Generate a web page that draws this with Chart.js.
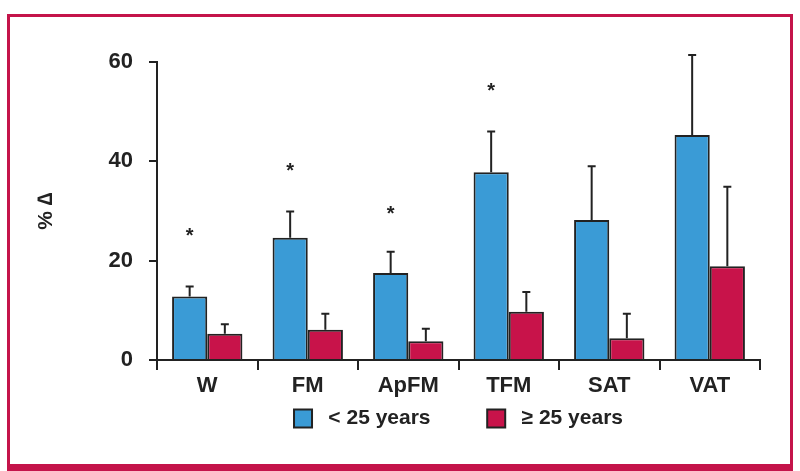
<!DOCTYPE html>
<html>
<head>
<meta charset="utf-8">
<script src="https://cdn.jsdelivr.net/npm/chart.js@4/dist/chart.umd.min.js"></script>
<style>
  html, body { margin: 0; padding: 0; background: #fff; }
  #wrap { position: relative; width: 800px; height: 471px; }
  #frame {
    position: absolute; left: 7px; top: 14px; width: 786px; height: 457px;
    box-sizing: border-box; border: 3px solid #c4144a; border-bottom-width: 7px;
    pointer-events: none;
  }
  canvas { position: absolute; left: 0; top: 0; }
</style>
</head>
<body>
<div id="wrap">
  <canvas id="chart" width="800" height="471"></canvas>
  <div id="frame"></div>
</div>
<script>
// categories and values
const categories = ['W', 'FM', 'ApFM', 'TFM', 'SAT', 'VAT'];
const seriesNames = ['< 25 years', '≥ 25 years'];
const young = [12.8, 24.6, 17.5, 37.8, 28.2, 45.3];
const older = [5.3, 6.1, 3.8, 9.7, 4.4, 18.9];
// top of the error bars (mean + SD)
const youngUpper = [14.8, 29.9, 21.8, 46.0, 39.0, 61.4];
const olderUpper = [7.2, 9.3, 6.3, 13.7, 9.3, 34.9];
// where the significance asterisks sit (null = none)
const starAt = [25, 38.2, 29.6, 54.2, null, null];
const yTicks = [0, 20, 40, 60];

const upperByDataset = [youngUpper, olderUpper];
const font = 'Liberation Sans, Arial, Helvetica, sans-serif';
Chart.defaults.color = '#222';
Chart.defaults.font.family = font;

const errorBars = {
  id: 'errorBars',
  afterDatasetsDraw(chart) {
    const { ctx } = chart;
    const y = chart.scales.y;
    ctx.save();
    ctx.strokeStyle = '#222';
    ctx.lineWidth = 2;
    chart.data.datasets.forEach((ds, i) => {
      chart.getDatasetMeta(i).data.forEach((bar, j) => {
        const top = y.getPixelForValue(upperByDataset[i][j]);
        ctx.beginPath();
        ctx.moveTo(bar.x, bar.y);
        ctx.lineTo(bar.x, top);
        ctx.moveTo(bar.x - 4, top);
        ctx.lineTo(bar.x + 4, top);
        ctx.stroke();
      });
    });
    // asterisks over the younger group
    ctx.fillStyle = '#222';
    ctx.font = 'bold 20px ' + font;
    ctx.textAlign = 'center';
    ctx.textBaseline = 'middle';
    chart.getDatasetMeta(0).data.forEach((bar, j) => {
      if (starAt[j] === null) return;
      ctx.fillText('*', bar.x, y.getPixelForValue(starAt[j]) + 1);
    });
    ctx.restore();
  }
};

new Chart(document.getElementById('chart').getContext('2d'), {
  type: 'bar',
  data: {
    labels: categories,
    datasets: [
      { label: seriesNames[0], data: young, backgroundColor: '#3a9bd6', borderColor: '#222', borderWidth: 2 },
      { label: seriesNames[1], data: older, backgroundColor: '#c8134a', borderColor: '#222', borderWidth: 2 }
    ]
  },
  options: {
    responsive: false,
    animation: false,
    layout: { padding: { left: 20, right: 40, top: 62, bottom: 32 } },
    datasets: { bar: { categoryPercentage: 0.7, barPercentage: 1.0 } },
    plugins: {
      tooltip: { enabled: false },
      legend: {
        position: 'bottom',
        fullSize: false,
        labels: {
          boxWidth: 18,
          boxHeight: 18,
          padding: 10,
          font: { size: 21, weight: 'bold' },
          generateLabels(chart) {
            const items = Chart.defaults.plugins.legend.labels.generateLabels(chart);
            items.forEach((it, i) => {
              it.text = ' ' + it.text + (i === 0 ? '        ' : '');
            });
            return items;
          }
        }
      }
    },
    scales: {
      x: {
        grid: { drawOnChartArea: false, offset: true, tickLength: 10, color: '#222', lineWidth: 2 },
        border: { color: '#222', width: 2 },
        ticks: { font: { size: 22, weight: 'bold' }, padding: 3 },
        afterFit(scale) { scale.height = 38; }
      },
      y: {
        min: 0,
        max: 60,
        afterBuildTicks(scale) { scale.ticks = yTicks.map(v => ({ value: v })); },
        grid: { drawOnChartArea: false, tickLength: 8, color: '#222', lineWidth: 2 },
        border: { color: '#222', width: 2 },
        ticks: { font: { size: 22, weight: 'bold' }, padding: 16 },
        title: {
          display: true,
          text: '% ∆',
          font: { size: 21, weight: 'bold' },
          padding: { top: 14, bottom: 0 }
        },
        afterFit(scale) { scale.width = 137; }
      }
    }
  },
  plugins: [errorBars]
});
</script>
</body>
</html>
